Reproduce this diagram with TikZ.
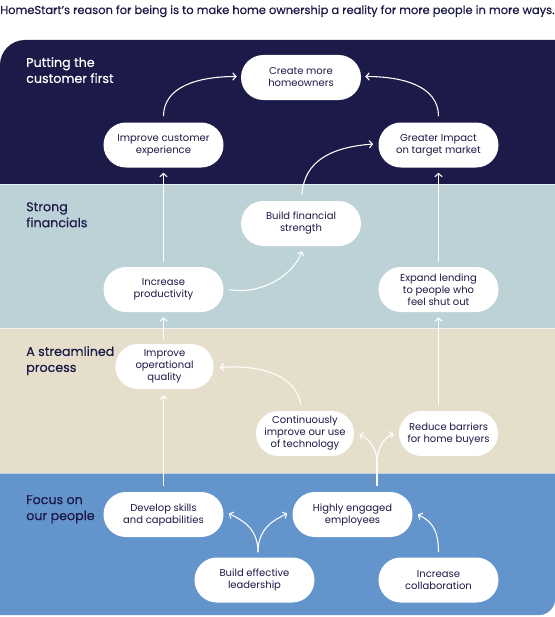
\documentclass[tikz,border=0pt]{standalone}
\usepackage{fontspec}
\setmainfont{Poppins}
\newfontfamily\medfont[FakeBold=0.5]{Poppins}
\usetikzlibrary{arrows.meta,calc}
\definecolor{navy}{HTML}{1C1A48}
\definecolor{steel}{HTML}{BDD2D7}
\definecolor{sand}{HTML}{E4DECB}
\definecolor{sky}{HTML}{6494CC}
\begin{document}
\begin{tikzpicture}[x=0.75pt,y=-0.75pt,
  pill/.style={fill=white, rounded corners=16.8pt, minimum width=90pt, minimum height=33.75pt, align=center, font=\fontsize{7.5}{9}\selectfont, text=navy, inner sep=0pt},
  pillS/.style={pill, minimum width=73.5pt},
  arr/.style={draw=white, line width=0.8pt, -{Straight Barb[length=2.5pt,width=5.5pt]}},
  plain/.style={draw=white, line width=0.8pt},
  bandlabel/.style={anchor=north west, align=left, font=\medfont\fontsize{9.5}{12}\selectfont, inner sep=0pt},
  sep/.style={draw=white, draw opacity=0.6, line width=0.75pt}
]
\useasboundingbox (0,0) rectangle (555,617);
% header
\node[anchor=base west, inner sep=0pt, text=navy, font=\medfont\fontsize{8.6}{10}\selectfont] (head) at (0,14) {HomeStart’s reason for being is to make home ownership a reality for more people in more ways.};
% bands
\fill[navy] (0,184) -- (0,65) .. controls (0,51.2) and (11.2,40) .. (25,40) -- (555,40) -- (555,184) -- cycle;
\fill[steel] (0,184) rectangle (555,328);
\fill[sand] (0,328) rectangle (555,473);
\fill[sky] (0,473) -- (555,473) -- (555,600) .. controls (555,608.3) and (546.7,615) .. (540,615) -- (0,615) -- cycle;
\draw[sep] (0,184) -- (555,184);
\draw[sep] (0,328) -- (555,328);
\draw[sep] (0,473) -- (555,473);
% band labels
\node[bandlabel, text=white] (l1) at (26,57) {Putting the\\customer first};
\node[bandlabel, text=navy] (l2) at (26,202) {Strong\\financials};
\node[bandlabel, text=navy] (l3) at (26,346) {A streamlined\\process};
\node[bandlabel, text=navy] (l4) at (26,495) {Focus on\\our people};
% nodes
\node[pill] (cmh) at (301,77.5) {Create more\\homeowners};
\node[pill] (ice) at (163.5,145) {Improve customer\\experience};
\node[pill] (git) at (438.5,145) {Greater Impact\\on target market};
\node[pill] (bfs) at (301,223.5) {Build financial\\strength};
\node[pill] (ip) at (163.5,289.5) {Increase\\productivity};
\node[pill] (el) at (438.5,289.5) {Expand lending\\to people who\\feel shut out};
\node[pillS] (ioq) at (164.5,366.5) {Improve\\operational\\quality};
\node[pillS, minimum width=73.5pt] (ciu) at (305,433.5) {Continuously\\improve our use\\of technology};
\node[pillS, minimum width=74.25pt] (rb) at (448.5,433.5) {Reduce barriers\\for home buyers};
\node[pill] (dsc) at (163.5,514.5) {Develop skills\\and capabilities};
\node[pill] (hee) at (352.5,514.5) {Highly engaged\\employees};
\node[pill] (bel) at (254.5,580) {Build effective\\leadership};
\node[pill] (ic) at (438.5,580) {Increase\\collaboration};
% connectors
\draw[arr] ($(ice.north)+(0,-6)$) .. controls +(0,-30) and +(-38,0) .. ($(cmh.west)+(-4,-1)$);
\draw[arr] ($(git.north)+(0,-6)$) .. controls +(0,-30) and +(38,0) .. ($(cmh.east)+(4,-1)$);
\draw[arr] ($(bfs.north)+(1,-6)$) .. controls +(2,-35) and +(-40,3) .. ($(git.west)+(-5,-1)$);
\draw[arr] ($(ip.north)+(0,-5)$) -- ($(ice.south)+(0,5)$);
\draw[arr] ($(el.north)+(0,-5)$) -- ($(git.south)+(0,5)$);
\draw[arr] ($(ip.east)+(5,0)$) .. controls +(35,6) and +(-8,22) .. ($(bfs.south)+(1,5)$);
\draw[arr] ($(ioq.north)+(-1,-4)$) -- ($(ip.south)+(0,5)$);
\draw[arr] ($(el.south |- rb.north)+(0,-6)$) -- ($(el.south)+(0,5)$);
\draw[arr] ($(ciu.north)+(-4,-6)$) .. controls +(-5,-30) and +(40,-3) .. ($(ioq.east)+(6,1)$);
\draw[arr] ($(dsc.north)+(0,-6)$) -- ($(ioq.south)+(-1,6)$);
\coordinate (hs) at ($(hee.north)+(24.5,-6)$);
\coordinate (hb) at ($(hs)+(0,-24)$);
\draw[plain] (hs) -- (hb);
\draw[arr] (hb) .. controls +(0,-12) and +(10,4) .. ($(ciu.east)+(5,1)$);
\draw[arr] (hb) .. controls +(0,-12) and +(-10,4) .. ($(rb.west)+(-5,0)$);
\coordinate (bs) at ($(bel.north)+(3.5,-5)$);
\draw[arr] (bs) .. controls +(0,-25) and +(12,6) .. ($(dsc.east)+(5,-1)$);
\draw[arr] (bs) .. controls +(0,-25) and +(-12,6) .. ($(hee.west)+(-5,-1)$);
\draw[arr] ($(ic.north)+(0,-5)$) .. controls +(0,-25) and +(12,6) .. ($(hee.east)+(5,0)$);
\end{tikzpicture}
\end{document}
